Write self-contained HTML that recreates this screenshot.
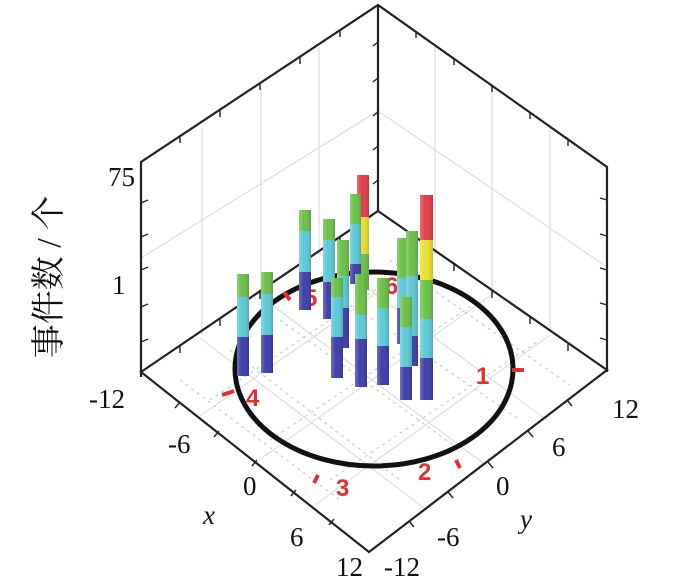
<!DOCTYPE html>
<html><head><meta charset="utf-8"><style>
html,body{margin:0;padding:0;background:#fff;}
svg{display:block;}
.t{font-family:"Liberation Serif",serif;font-size:27px;fill:#111;}
.r{font-family:"Liberation Sans",sans-serif;font-size:24px;font-weight:bold;fill:#e03030;}
</style></head><body>
<svg width="676" height="582" viewBox="0 0 676 582" xmlns="http://www.w3.org/2000/svg">
<rect width="676" height="582" fill="#fff"/>
<g stroke="#ddd" stroke-width="1.2" fill="none">
<line x1="202" y1="128" x2="202" y2="335"/>
<line x1="261" y1="87" x2="261" y2="297"/>
<line x1="319" y1="47" x2="319" y2="255"/>
<line x1="435" y1="47" x2="435" y2="255"/>
<line x1="492" y1="87" x2="492" y2="294"/>
<line x1="550" y1="128" x2="550" y2="332"/>
<polyline points="141,258 378,111 607,267"/>
</g>
<g stroke="#d8d8d8" stroke-width="1" fill="none">
<line x1="200" y1="338" x2="428" y2="511"/>
<line x1="260" y1="296" x2="487" y2="466"/>
<line x1="319" y1="253" x2="547" y2="420"/>
<line x1="200" y1="416" x2="437" y2="251"/>
<line x1="259" y1="460" x2="494" y2="293"/>
<line x1="315" y1="505" x2="550" y2="335"/>
</g>
<g stroke="#ccc" stroke-width="1.2" stroke-dasharray="3 4" fill="none">
<line x1="180" y1="380" x2="340" y2="500"/>
<line x1="230" y1="350" x2="400" y2="480"/>
<line x1="280" y1="320" x2="460" y2="450"/>
<line x1="330" y1="290" x2="520" y2="420"/>
<line x1="390" y1="260" x2="570" y2="385"/>
<line x1="210" y1="400" x2="420" y2="260"/>
<line x1="270" y1="440" x2="480" y2="300"/>
<line x1="330" y1="480" x2="540" y2="340"/>
</g>
<g stroke="#222" stroke-width="2.2" fill="none">
<polyline points="141,377 141,162 378,5 607,167 607,372"/>
<line x1="378" y1="5" x2="378" y2="211"/>
<polygon points="141,372 378,211 607,370 369,552"/>
</g>
<g stroke="#222" stroke-width="1.4">
<line x1="141" y1="203" x2="148" y2="200"/><line x1="141" y1="237" x2="148" y2="234"/>
<line x1="141" y1="270" x2="148" y2="267"/><line x1="141" y1="307" x2="148" y2="304"/>
<line x1="141" y1="342" x2="148" y2="339"/>
<line x1="378" y1="42" x2="373" y2="46"/><line x1="378" y1="78" x2="373" y2="82"/>
<line x1="378" y1="112" x2="373" y2="116"/><line x1="378" y1="146" x2="373" y2="150"/>
<line x1="378" y1="180" x2="373" y2="184"/>
<line x1="607" y1="200" x2="600" y2="198"/><line x1="607" y1="236" x2="600" y2="234"/>
<line x1="607" y1="270" x2="600" y2="268"/><line x1="607" y1="305" x2="600" y2="303"/>
<line x1="607" y1="340" x2="600" y2="338"/>
<line x1="180" y1="136" x2="180" y2="143"/><line x1="220" y1="110" x2="220" y2="117"/>
<line x1="260" y1="83" x2="260" y2="90"/><line x1="300" y1="57" x2="300" y2="64"/>
<line x1="340" y1="30" x2="340" y2="37"/>
<line x1="416" y1="31" x2="416" y2="38"/><line x1="454" y1="58" x2="454" y2="65"/>
<line x1="492" y1="85" x2="492" y2="92"/><line x1="530" y1="112" x2="530" y2="119"/>
<line x1="568" y1="139" x2="568" y2="146"/>
<line x1="180" y1="346" x2="180" y2="353"/><line x1="220" y1="319" x2="220" y2="326"/>
<line x1="260" y1="292" x2="260" y2="299"/><line x1="300" y1="265" x2="300" y2="272"/>
<line x1="340" y1="238" x2="340" y2="245"/>
<line x1="416" y1="238" x2="416" y2="245"/><line x1="454" y1="264" x2="454" y2="271"/>
<line x1="492" y1="291" x2="492" y2="298"/><line x1="530" y1="317" x2="530" y2="324"/>
<line x1="568" y1="344" x2="568" y2="351"/>
<line x1="180" y1="402" x2="175" y2="408"/><line x1="219" y1="431" x2="214" y2="437"/>
<line x1="257" y1="460" x2="252" y2="466"/><line x1="296" y1="490" x2="291" y2="496"/>
<line x1="334" y1="519" x2="329" y2="525"/>
<line x1="409" y1="521" x2="414" y2="527"/><line x1="448" y1="492" x2="453" y2="498"/>
<line x1="488" y1="462" x2="493" y2="468"/><line x1="528" y1="431" x2="533" y2="437"/>
<line x1="567" y1="400" x2="572" y2="406"/>
</g>
<ellipse cx="374" cy="369" rx="139" ry="97" fill="none" stroke="#111" stroke-width="5"/>
<g stroke="#e03030" stroke-width="4">
<line x1="512" y1="370" x2="524" y2="370"/>
<line x1="222" y1="395" x2="234" y2="391"/>
<line x1="456" y1="460" x2="460" y2="468"/>
<line x1="318" y1="475" x2="314" y2="483"/>
<line x1="284" y1="292" x2="290" y2="300"/>
</g>
<text class="r" x="476" y="384">1</text>
<text class="r" x="418" y="480">2</text>
<text class="r" x="336" y="496">3</text>
<text class="r" x="246" y="406">4</text>
<text class="r" x="304" y="306">5</text>
<text class="r" x="385" y="294">6</text>
<defs>
<linearGradient id="sh" x1="0" x2="1" y1="0" y2="0">
<stop offset="0" stop-color="#fff" stop-opacity="0.25"/>
<stop offset="0.4" stop-color="#fff" stop-opacity="0"/>
<stop offset="1" stop-color="#000" stop-opacity="0.15"/>
</linearGradient>
</defs>
<g>
<rect x="299" y="210" width="12" height="21" fill="#6cc04a"/><rect x="299" y="231" width="12" height="41" fill="#5fc8d6"/><rect x="299" y="272" width="12" height="38" fill="#3f3fa8"/><rect x="299" y="210" width="12" height="100" fill="url(#sh)"/>
<rect x="323" y="219" width="12" height="21" fill="#6cc04a"/><rect x="323" y="240" width="12" height="42" fill="#5fc8d6"/><rect x="323" y="282" width="12" height="37" fill="#3f3fa8"/><rect x="323" y="219" width="12" height="100" fill="url(#sh)"/>
<rect x="357" y="175" width="12" height="42" fill="#e0404a"/><rect x="357" y="217" width="12" height="37" fill="#e8e030"/><rect x="357" y="254" width="12" height="36" fill="#6cc04a"/><rect x="357" y="175" width="12" height="115" fill="url(#sh)"/>
<rect x="350" y="194" width="11" height="30" fill="#6cc04a"/><rect x="350" y="224" width="11" height="40" fill="#5fc8d6"/><rect x="350" y="264" width="11" height="20" fill="#3f3fa8"/><rect x="350" y="194" width="11" height="90" fill="url(#sh)"/>
<rect x="337" y="240" width="12" height="36" fill="#6cc04a"/><rect x="337" y="276" width="12" height="32" fill="#5fc8d6"/><rect x="337" y="308" width="12" height="40" fill="#3f3fa8"/><rect x="337" y="240" width="12" height="108" fill="url(#sh)"/>
<rect x="397" y="238" width="12" height="40" fill="#6cc04a"/><rect x="397" y="278" width="12" height="30" fill="#5fc8d6"/><rect x="397" y="308" width="12" height="36" fill="#3f3fa8"/><rect x="397" y="238" width="12" height="106" fill="url(#sh)"/>
<rect x="406" y="231" width="12" height="45" fill="#6cc04a"/><rect x="406" y="276" width="12" height="60" fill="#5fc8d6"/><rect x="406" y="336" width="12" height="30" fill="#3f3fa8"/><rect x="406" y="231" width="12" height="135" fill="url(#sh)"/>
<rect x="237" y="274" width="12" height="23" fill="#6cc04a"/><rect x="237" y="297" width="12" height="40" fill="#5fc8d6"/><rect x="237" y="337" width="12" height="39" fill="#3f3fa8"/><rect x="237" y="274" width="12" height="102" fill="url(#sh)"/>
<rect x="261" y="272" width="12" height="22" fill="#6cc04a"/><rect x="261" y="294" width="12" height="41" fill="#5fc8d6"/><rect x="261" y="335" width="12" height="38" fill="#3f3fa8"/><rect x="261" y="272" width="12" height="101" fill="url(#sh)"/>
<rect x="331" y="278" width="12" height="19" fill="#6cc04a"/><rect x="331" y="297" width="12" height="40" fill="#5fc8d6"/><rect x="331" y="337" width="12" height="41" fill="#3f3fa8"/><rect x="331" y="278" width="12" height="100" fill="url(#sh)"/>
<rect x="377" y="278" width="12" height="30" fill="#6cc04a"/><rect x="377" y="308" width="12" height="38" fill="#5fc8d6"/><rect x="377" y="346" width="12" height="39" fill="#3f3fa8"/><rect x="377" y="278" width="12" height="107" fill="url(#sh)"/>
<rect x="355" y="274" width="12" height="41" fill="#6cc04a"/><rect x="355" y="315" width="12" height="24" fill="#5fc8d6"/><rect x="355" y="339" width="12" height="48" fill="#3f3fa8"/><rect x="355" y="274" width="12" height="113" fill="url(#sh)"/>
<rect x="400" y="297" width="12" height="30" fill="#6cc04a"/><rect x="400" y="327" width="12" height="40" fill="#5fc8d6"/><rect x="400" y="367" width="12" height="33" fill="#3f3fa8"/><rect x="400" y="297" width="12" height="103" fill="url(#sh)"/>
<rect x="420" y="195" width="13" height="45" fill="#e0404a"/><rect x="420" y="240" width="13" height="40" fill="#e8e030"/><rect x="420" y="280" width="13" height="39" fill="#6cc04a"/><rect x="420" y="319" width="13" height="39" fill="#5fc8d6"/><rect x="420" y="358" width="13" height="42" fill="#3f3fa8"/><rect x="420" y="195" width="13" height="205" fill="url(#sh)"/>
</g>
<text class="t" x="108" y="186">75</text>
<text class="t" x="112" y="294">1</text>
<text class="t" x="89" y="408">-12</text>
<text class="t" x="168" y="453">-6</text>
<text class="t" x="243" y="495">0</text>
<text class="t" x="203" y="524" font-style="italic">x</text>
<text class="t" x="290" y="546">6</text>
<text class="t" x="336" y="576">12</text>
<text class="t" x="612" y="418">12</text>
<text class="t" x="552" y="456">6</text>
<text class="t" x="496" y="495">0</text>
<text class="t" x="520" y="528" font-style="italic">y</text>
<text class="t" x="437" y="546">-6</text>
<text class="t" x="384" y="576">-12</text>
<text transform="translate(60,277) rotate(-90)" text-anchor="middle" style="font-family:'Liberation Serif','Noto Serif CJK SC',serif;font-size:34px;fill:#111">事件数 / 个</text>
</svg>
</body></html>
